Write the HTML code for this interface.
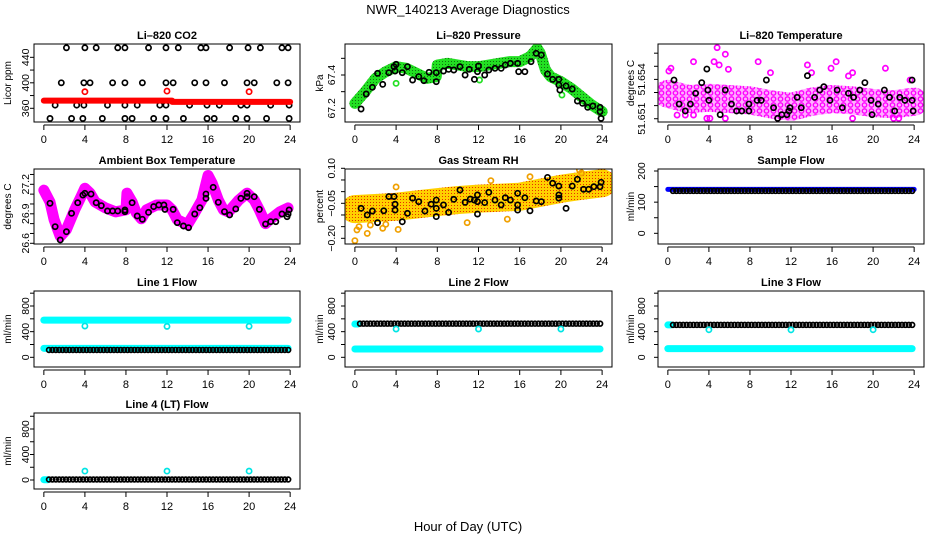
<!DOCTYPE html>
<html><head><meta charset="utf-8"><style>
html,body{margin:0;padding:0;background:#fff}
svg{display:block;font-family:"Liberation Sans",sans-serif}
</style></head><body>
<svg id="c" width="936" height="540" viewBox="0 0 936 540" xmlns="http://www.w3.org/2000/svg">
<defs>
<pattern id="pm" width="7" height="6" patternUnits="userSpaceOnUse"><rect width="7" height="6" fill="#ffb0ff"/><circle cx="3.5" cy="3" r="2.2" fill="none" stroke="#ff00ff" stroke-width="1.4"/></pattern>
<pattern id="py" width="3" height="3" patternUnits="userSpaceOnUse"><rect width="3" height="3" fill="#ffd000"/><rect x="1" y="1" width="1" height="1" fill="#e83000"/></pattern>
<pattern id="pg" width="3" height="3" patternUnits="userSpaceOnUse"><rect width="3" height="3" fill="#22e022"/><rect x="1" y="1" width="1" height="1" fill="#107010"/></pattern>
</defs>
<text x="468" y="14" text-anchor="middle" font-size="13">NWR_140213  Average Diagnostics</text>
<text x="468" y="531" text-anchor="middle" font-size="13">Hour of Day (UTC)</text>
</svg>
<script>
// ---- data ----
const xTicks=[0,4,8,12,16,20,24];
// CO2
const co2Hours1=[2.2,4.0,5.1,7.2,7.9,10.2,11.9,13.1,15.3,15.8,18.1,19.9,21.1,23.2,23.8];
const co2Hours2=[1.7,3.9,4.5,6.7,7.9,9.6,11.9,12.6,14.7,15.8,17.6,19.8,20.5,22.7,23.8];
const co2Hours3=[1.1,3.2,3.9,6.2,7.9,9.1,11.3,11.9,14.2,15.9,17.1,19.2,19.8,22.1,23.9];
const co2Hours4=[0.6,2.7,3.8,5.7,7.9,8.6,10.7,11.9,13.6,15.9,16.6,18.7,19.8,21.7,23.9];
const co2Levels=[455,400,365,344];
const co2RedSeg=[[0,12.5,372],[12.5,24,370]];
const co2RedOutH=[4,12,20];
const co2RedOutV=[386,387,386];
// Pressure
const presBandH=[0,1,2,3,4,5,6,7,7.9,8,9,10,11,12,13,14,15,16,17,17.7,18,18.5,19,20,21,22,23,24];
const presBandV=[67.23,67.30,67.38,67.42,67.45,67.44,67.41,67.38,67.39,67.46,67.47,67.46,67.45,67.45,67.46,67.47,67.48,67.48,67.51,67.56,67.53,67.43,67.39,67.36,67.32,67.27,67.22,67.18];
const presBlkH=[0.6,1.1,1.7,2.2,2.7,3.3,3.8,3.9,4.0,4.6,5.1,5.6,6.2,6.7,7.2,7.9,7.9,8.6,9.1,9.6,10.2,10.7,11.1,11.6,11.9,12,12.6,13.0,13.6,14.2,14.6,15.1,15.8,15.9,16.5,17.1,17.6,18.1,18.7,19.2,19.8,19.8,19.9,20.5,21.1,21.6,22.1,22.6,23.1,23.8,23.8,23.9];
const presBlkV=[67.196,67.286,67.326,67.41,67.344,67.414,67.45,67.424,67.464,67.414,67.45,67.37,67.39,67.366,67.416,67.414,67.36,67.424,67.434,67.43,67.45,67.40,67.434,67.374,67.42,67.454,67.40,67.43,67.44,67.44,67.46,67.47,67.47,67.42,67.42,67.48,67.53,67.52,67.406,67.374,67.374,67.34,67.31,67.334,67.316,67.244,67.23,67.206,67.214,67.206,67.18,67.14];
const presOutH=[4.0,12.1,20.1];
const presOutV=[67.35,67.37,67.28];
// Li-820 temperature
const tlBandH=[0,2,4,6,8,10,12,14,16,18,20,22,24];
const tlBandV=[51.6529,51.6525,51.6526,51.6525,51.6524,51.6521,51.6519,51.6523,51.6525,51.6524,51.6522,51.6521,51.6523];
const tlOutH=[0.3,0.1,2.5,4.5,4.8,5.0,5.6,5.9,8.8,10.0,13.6,14.0,15.9,16.4,17.6,18.0,21.2,23.6,3.8,4.1,5.6,10.7,18,22,22.5,0.9,1.7,2.5];
const tlOutV=[51.65485,51.65464,51.65535,51.65535,51.65642,51.6551,51.65592,51.65477,51.65535,51.65451,51.6551,51.65451,51.65485,51.65535,51.65426,51.65451,51.65485,51.65395,51.65103,51.65103,51.65103,51.65103,51.65103,51.65103,51.65103,51.65128,51.65128,51.65128];
const tlBlkH=[0.6,1.1,1.7,2.2,2.7,3.3,3.8,3.9,4.0,5.1,5.6,6.2,6.7,7.2,7.9,7.9,8.7,9.1,9.6,10.3,10.7,11.1,11.6,11.9,11.8,12.6,13.0,13.6,14.3,14.8,15.2,15.8,16.5,17.0,17.6,18.1,18.7,19.2,19.8,19.9,20.5,21.1,21.6,22.1,22.6,23.1,23.8,23.8,23.9];
const tlBlkV=[51.65395,51.65212,51.65159,51.65212,51.65294,51.65375,51.65479,51.65319,51.6524,51.65131,51.65319,51.65212,51.65159,51.65159,51.65212,51.65159,51.6524,51.6524,51.65395,51.65184,51.65103,51.65131,51.65131,51.65184,51.65159,51.65263,51.65184,51.65428,51.65263,51.65319,51.65344,51.6524,51.65319,51.65184,51.65294,51.65263,51.65319,51.65375,51.6524,51.65131,51.65212,51.65319,51.65263,51.65159,51.65263,51.6524,51.65395,51.6524,51.65159];
// Ambient box temperature
const ambBandH=[0,0.6,1,1.6,2.2,3,3.6,4,4.5,5,6,7,8,8.1,8.6,9,9.5,10,11,12,12.5,13,14,14.7,15.4,16,16.4,17,17.5,18,19,19.8,20.5,21,21.6,22,23,23.8];
const ambBandV=[27.14,27.02,26.84,26.67,26.74,26.94,27.07,27.16,27.11,27.02,26.96,26.92,26.94,27.11,27.02,26.91,26.85,26.94,26.99,26.99,26.94,26.84,26.79,26.91,27.04,27.29,27.21,27.04,26.94,26.92,27.04,27.11,27.04,26.94,26.80,26.84,26.92,26.96];
const ambBlkH=[0.6,1.1,1.6,2.2,2.7,3.3,3.8,4.0,4.6,5.1,5.6,6.2,6.7,7.2,7.9,7.9,8.6,9.1,9.6,10.2,10.7,11.2,11.7,11.8,12.6,13.0,13.6,14.1,14.7,15.2,15.8,15.8,16.5,17.0,17.6,18.1,18.7,19.2,19.8,19.8,20.5,21.0,21.6,22.1,22.6,23.2,23.8,23.9,23.7];
const ambBlkV=[27.007,26.769,26.634,26.718,26.905,27.013,27.091,27.108,27.101,27.013,26.983,26.929,26.929,26.929,26.922,26.939,27.013,26.878,26.844,26.915,26.973,26.99,26.99,26.945,26.945,26.81,26.776,26.759,26.898,26.962,27.101,27.057,27.169,27.017,26.922,26.888,26.949,27.057,27.108,27.074,27.074,26.945,26.796,26.82,26.82,26.898,26.898,26.939,26.871];
// Gas stream RH
const rhBandH=[0,2,4,6,8,10,12,14,16,18,20,22,24];
const rhBandV=[-0.075,-0.070,-0.065,-0.055,-0.045,-0.036,-0.030,-0.026,-0.022,-0.005,0.012,0.025,0.036];
const rhOutH=[0,0.2,1.2,1.5,2.7,4.2,4.0,10.9,13.2,14.8,17.0,21.8,22.0,0.4,3.0];
const rhOutV=[-0.210,-0.164,-0.179,-0.143,-0.157,-0.162,0.020,-0.133,0.047,-0.118,0.064,0.093,0.080,-0.150,-0.140];
const rhBlkH=[0.6,1.2,1.7,2.2,2.8,3.3,3.8,3.9,3.9,4.6,5.1,5.6,6.2,6.8,7.4,7.9,7.9,7.9,8.6,9.1,9.6,10.2,10.7,11.2,11.6,11.9,11.9,11.9,12.6,13.0,13.6,14.2,14.6,15.1,15.8,15.8,15.8,16.5,17.0,17.6,18.1,18.7,19.2,19.8,19.8,19.8,20.5,21.1,21.6,22.2,22.7,23.2,23.8,23.9];
const rhBlkV=[-0.0715,-0.100,-0.083,-0.133,-0.082,-0.021,-0.021,-0.054,-0.079,-0.129,-0.093,-0.028,-0.043,-0.083,-0.054,-0.0715,-0.107,-0.036,-0.057,-0.089,-0.033,0.007,-0.046,-0.032,-0.036,-0.096,-0.043,-0.014,-0.047,-0.003,-0.036,-0.057,-0.026,-0.036,-0.007,-0.079,-0.057,-0.026,-0.082,-0.040,-0.043,0.061,0.036,0.024,-0.014,-0.028,-0.0715,0.024,0.053,0.010,0.010,0.021,0.021,0.040];
// Sample flow
const sfBlueSeg=[[0,24,141]];
const sfBlackSeg=[[0.5,23.9,136]];
// Line flows: segments [startHour,endHour,value]
const l1CyanSeg=[[0,23.8,580],[0,23.8,140]];
const l1BlackSeg=[[0.5,23.9,115]];
const l1OutH=[4,12,20]; const l1OutV=[488,482,484];
const l2CyanSeg=[[0,0.3,520],[0,23.8,130]];
const l2BlackSeg=[[0.5,23.9,525]];
const l2OutH=[4,12,20]; const l2OutV=[441,441,441];
const l3CyanSeg=[[0,0.3,505],[0,23.8,135]];
const l3BlackSeg=[[0.5,23.9,505]];
const l3OutH=[4,12,20]; const l3OutV=[430,428,430];
const l4CyanSeg=[[0,0.4,5]];
const l4BlackSeg=[[0.5,23.9,8]];
const l4OutH=[4,12,20]; const l4OutV=[140,140,140];

// ---- drawing ----
const NS='http://www.w3.org/2000/svg';
const svg=document.getElementById('c');
function mk(tag,attrs,parent){const e=document.createElementNS(NS,tag);for(const k in attrs)e.setAttribute(k,attrs[k]);(parent||svg).appendChild(e);return e;}
const COLS=[[34,300],[345,612],[658,924]];
const ROWS=[[44,122],[169,244],[291,367],[413,489]];
// [tick-label baseline x, axis-title baseline x]
const YLAB=[[29,11],[335,323],[645,634]];
function makePanel(c,r,ylim,title,ytitle,yTicks,yLabels,name){
  const [x0,x1]=COLS[c],[y0,y1]=ROWS[r];
  const g=mk('g',{});
  
  
  const p={g,x:h=>x0+(h+0.96)/25.92*(x1-x0),y:v=>y1-(v-ylim[0])/(ylim[1]-ylim[0])*(y1-y0)};
  const clip=mk('clipPath',{id:'cl'+name},g);mk('rect',{x:x0,y:y0,width:x1-x0,height:y1-y0},clip);
  p.plot=mk('g',{'clip-path':'url(#cl'+name+')'},g);
  
  
  const box=mk('rect',{x:x0,y:y0,width:x1-x0,height:y1-y0,fill:'none',stroke:'#000','stroke-width':1},g);
  
  
  const t=mk('text',{x:(x0+x1)/2,y:y0-5,'text-anchor':'middle','font-size':11,'font-weight':'bold'},g);t.textContent=title;
  
  
  const yt=mk('text',{transform:`translate(${YLAB[c][1]},${(y0+y1)/2}) rotate(-90)`,'text-anchor':'middle','font-size':10},g);yt.textContent=ytitle;
  
  
  const xa=mk('g',{},g);
  
  
  mk('line',{x1:p.x(0),x2:p.x(24),y1:y1+3,y2:y1+3,stroke:'#000'},xa);
  xTicks.forEach(h=>{mk('line',{x1:p.x(h),x2:p.x(h),y1:y1+3,y2:y1+8,stroke:'#000'},xa);
    const l=mk('text',{x:p.x(h),y:y1+21,'text-anchor':'middle','font-size':11},xa);l.textContent=h;
    
    });
  const ya=mk('g',{},g);
  
  
  yTicks.forEach(v=>mk('line',{x1:x0,x2:x0-4,y1:p.y(v),y2:p.y(v),stroke:'#000'},ya));
  yLabels.forEach(([v,s])=>{const l=mk('text',{transform:`translate(${YLAB[c][0]},${p.y(v)}) rotate(-90)`,'text-anchor':'middle','font-size':10.5},ya);l.textContent=s;
    
    });
  return p;
}
function pts(p,H,V,color,name,r,sw){const g=mk('g',{},p.plot);
  
  
  H.forEach((h,i)=>mk('circle',{cx:p.x(h),cy:p.y(V[i]),r:r||2.6,fill:'none',stroke:color,'stroke-width':sw||1.7},g));}
function band(p,H,V,stroke,w,name){const l=mk('polyline',{points:H.map((h,i)=>p.x(h)+','+p.y(V[i])).join(' '),fill:'none',stroke,'stroke-width':w,'stroke-linejoin':'round','stroke-linecap':'round'},p.plot);
  
  }
function segLine(p,S,color,w,name){S.forEach(([a,b,v])=>{const l=mk('line',{x1:p.x(a),x2:p.x(b),y1:p.y(v),y2:p.y(v),stroke:color,'stroke-width':w,'stroke-linecap':'round'},p.plot);
  
  });}
function segPts(p,S,color,name){const g=mk('g',{},p.plot);
  
  
  S.forEach(([a,b,v])=>{for(let h=a;h<=b+1e-6;h+=0.333)mk('circle',{cx:p.x(h),cy:p.y(v),r:2.4,fill:'none',stroke:color,'stroke-width':1.7},g);});}

const flowTicks=[0,200,400,600,800,1000];
const flowLab=[[0,'0'],[400,'400'],[800,'800']];

// Row 1
let p=makePanel(0,0,[338.5,460.9],'Li\u2013820 CO2','Licor ppm',[360,380,400,420,440],[[360,'360'],[400,'400'],[440,'440']],'co2-panel');
pts(p,co2Hours1,co2Hours1.map(()=>co2Levels[0]),'#000','co2-points-high');
pts(p,co2Hours2,co2Hours2.map(()=>co2Levels[1]),'#000','co2-points-mid');
pts(p,co2Hours3,co2Hours3.map(()=>co2Levels[2]),'#000','co2-points-low');
pts(p,co2Hours4,co2Hours4.map(()=>co2Levels[3]),'#000','co2-points-bottom');
segLine(p,co2RedSeg,'#ff0000',6,'co2-red-series');
pts(p,co2RedOutH,co2RedOutV,'#ff0000','co2-red-outliers');

p=makePanel(1,0,[67.118,67.586],'Li\u2013820 Pressure','kPa',[67.2,67.3,67.4,67.5],[[67.2,'67.2'],[67.4,'67.4']],'pressure-panel');
band(p,presBandH,presBandV,'url(#pg)',11,'pressure-green-band');
pts(p,presOutH,presOutV,'#22e022','pressure-green-outliers');
pts(p,presBlkH,presBlkV,'#000','pressure-black-points');

p=makePanel(2,0,[51.65075,51.6567],'Li\u2013820 Temperature','degrees C',[51.651,51.652,51.653,51.654,51.655,51.656],[[51.651,'51.651'],[51.654,'51.654']],'li820-temp-panel');
band(p,tlBandH,tlBandV,'url(#pm)',28,'li820-temp-magenta-band');
pts(p,tlOutH,tlOutV,'#ff00ff','li820-temp-magenta-outliers');
pts(p,tlBlkH,tlBlkV,'#000','li820-temp-black-points');

// Row 2
p=makePanel(0,1,[26.5929,27.3556],'Ambient Box Temperature','degrees C',[26.6,26.7,26.8,26.9,27.0,27.1,27.2,27.3],[[26.6,'26.6'],[26.9,'26.9'],[27.2,'27.2']],'ambient-temp-panel');
band(p,ambBandH,ambBandV,'#ff00ff',11,'ambient-magenta-band');
pts(p,ambBlkH,ambBlkV,'#000','ambient-black-points');

p=makePanel(1,1,[-0.2244,0.097],'Gas Stream RH','percent',[-0.2,-0.15,-0.1,-0.05,0,0.05,0.1],[[-0.2,'\u22120.20'],[-0.05,'\u22120.05'],[0.1,'0.10']],'rh-panel');
band(p,rhBandH,rhBandV,'url(#py)',28,'rh-orange-band');
pts(p,rhOutH,rhOutV,'#f0a000','rh-outliers');
pts(p,rhBlkH,rhBlkV,'#000','rh-black-points');

p=makePanel(2,1,[-34.3,206.4],'Sample Flow','ml/min',[0,50,100,150,200],[[0,'0'],[100,'100'],[200,'200']],'sample-flow-panel');
segLine(p,sfBlueSeg,'#0000ff',5,'sample-flow-blue');
segPts(p,sfBlackSeg,'#000','sample-flow-black');

// Row 3
p=makePanel(0,2,[-151,1034],'Line 1 Flow','ml/min',flowTicks,flowLab,'line1-flow-panel');
segLine(p,l1CyanSeg,'#00ffff',7,'line1-cyan');
segPts(p,l1BlackSeg,'#000','line1-black');
pts(p,l1OutH,l1OutV,'#00e5e5','line1-cyan-outliers');

p=makePanel(1,2,[-151,1034],'Line 2 Flow','ml/min',flowTicks,flowLab,'line2-flow-panel');
segLine(p,l2CyanSeg,'#00ffff',7,'line2-cyan');
segPts(p,l2BlackSeg,'#000','line2-black');
pts(p,l2OutH,l2OutV,'#00e5e5','line2-cyan-outliers');

p=makePanel(2,2,[-151,1034],'Line 3 Flow','ml/min',flowTicks,flowLab,'line3-flow-panel');
segLine(p,l3CyanSeg,'#00ffff',7,'line3-cyan');
segPts(p,l3BlackSeg,'#000','line3-black');
pts(p,l3OutH,l3OutV,'#00e5e5','line3-cyan-outliers');

// Row 4
p=makePanel(0,3,[-141,1051],'Line 4 (LT) Flow','ml/min',flowTicks,flowLab,'line4-flow-panel');
segLine(p,l4CyanSeg,'#00ffff',7,'line4-cyan');
segPts(p,l4BlackSeg,'#000','line4-black');
pts(p,l4OutH,l4OutV,'#00e5e5','line4-cyan-outliers');
</script>
</body></html>
